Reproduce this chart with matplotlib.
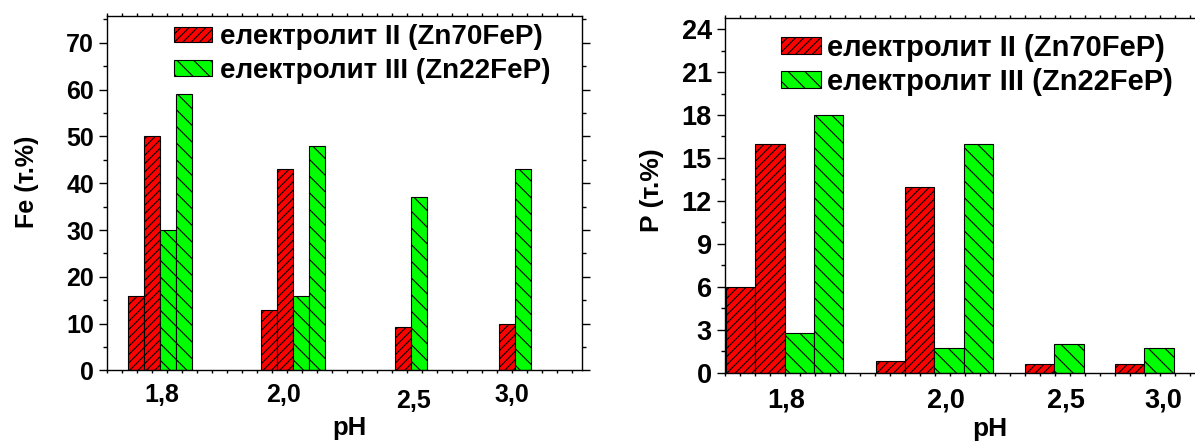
import matplotlib.pyplot as plt
from matplotlib.ticker import MultipleLocator
from matplotlib.transforms import ScaledTranslation

plt.rcParams['font.family'] = ['Liberation Sans', 'DejaVu Sans']
plt.rcParams['font.weight'] = 'bold'
plt.rcParams['axes.labelweight'] = 'bold'
plt.rcParams['hatch.linewidth'] = 0.8

# pH groups and composition of the coatings (two samples per electrolyte at pH 1,8 and 2,0)
ph_labels = ['1,8', '2,0', '2,5', '3,0']
series_names = ['електролит II (Zn70FeP)', 'електролит III (Zn22FeP)']

fe_zn70 = [[16, 50], [13, 43], [9.2], [10]]
fe_zn22 = [[30, 59], [16, 48], [37], [43]]

p_zn70 = [[6, 16], [0.8, 13], [0.6], [0.6]]
p_zn22 = [[2.8, 18], [1.7, 16], [2.0], [1.7]]

colors = ['#ff0000', '#00ff00']
hatches = ['////', '\\\\']

fig = plt.figure(figsize=(11.95, 4.42), dpi=100)
ax1 = fig.add_axes([0.0898, 0.1618, 0.397, 0.8027])
ax2 = fig.add_axes([0.6067, 0.1568, 0.3967, 0.8032])


def draw_panel(ax, red, green, centers, width, label_pos, fs):
    handles = []
    for g, c in enumerate(centers):
        vals = red[g] + green[g]
        n = len(vals)
        for k, v in enumerate(vals):
            s = 0 if k < len(red[g]) else 1
            x = c + (k - (n - 1) / 2) * width
            b = ax.bar(x, v, width, color=colors[s], edgecolor='black',
                       linewidth=0.8, hatch=hatches[s], zorder=2)
            if g == 0 and k in (0, len(red[g])):
                handles.append(b)
    ax.set_xticks(label_pos)
    ax.set_xticklabels(ph_labels)
    ax.xaxis.set_minor_locator(MultipleLocator(15))
    ax.tick_params(axis='x', which='major', length=0, labelsize=fs)
    ax.tick_params(axis='x', which='minor', direction='out', length=2,
                   width=1, top=True, bottom=True)
    ax.tick_params(axis='y', which='major', direction='out', length=6,
                   width=1, labelsize=fs, right=True)
    ax.tick_params(axis='y', which='minor', direction='out', length=3,
                   width=1, right=True)
    for sp in ax.spines.values():
        sp.set_linewidth(1.0)
    return handles


h1 = draw_panel(ax1, fe_zn70, fe_zn22, [52.7, 185.4, 303.7, 407.4], 16,
                [54.4, 176, 306, 404.4], 18)
ax1.set_xlim(0, 474.4)
ax1.set_ylim(0, 75.8)
ax1.yaxis.set_major_locator(MultipleLocator(10))
ax1.yaxis.set_minor_locator(MultipleLocator(5))
ax1.tick_params(axis='x', which='major', pad=9)
ax1.set_xlabel('pH', fontsize=18.5)
ax1.xaxis.set_label_coords(0.51, -0.128)
ax1.set_ylabel('Fe (т.%)', fontsize=18)
ax1.yaxis.set_label_coords(-0.143, 0.532)
ax1.legend(h1, series_names, loc='upper left', bbox_to_anchor=(0.1406, 0.976),
           frameon=False, prop={'size': 20, 'weight': 'bold'},
           handlelength=1.37, handleheight=0.49, handletextpad=0.29,
           labelspacing=0.28, borderpad=0, borderaxespad=0)

# the 2,5 label sits a little lower than the others
lbl = ax1.get_xticklabels()[2]
lbl.set_transform(lbl.get_transform() + ScaledTranslation(0, -0.06, fig.dpi_scale_trans))

h2 = draw_panel(ax2, p_zn70, p_zn22, [59.5, 209.3, 329.3, 419.3], 29.2,
                [61, 221, 341, 438], 19.5)
ax2.set_xlim(0, 474)
ax2.set_ylim(0, 24.8)
ax2.yaxis.set_major_locator(MultipleLocator(3))
ax2.yaxis.set_minor_locator(MultipleLocator(1.5))
ax2.tick_params(axis='x', which='major', pad=11)
ax2.set_xlabel('pH', fontsize=19)
ax2.xaxis.set_label_coords(0.559, -0.126)
ax2.set_ylabel('P (т.%)', fontsize=19)
ax2.yaxis.set_label_coords(-0.129, 0.513)
ax2.legend(h2, series_names, loc='upper left', bbox_to_anchor=(0.1175, 0.955),
           frameon=False, prop={'size': 21, 'weight': 'bold'},
           handlelength=1.38, handleheight=0.5, handletextpad=0.2,
           labelspacing=0.22, borderpad=0, borderaxespad=0)

fig.savefig('out.png', dpi=100)
